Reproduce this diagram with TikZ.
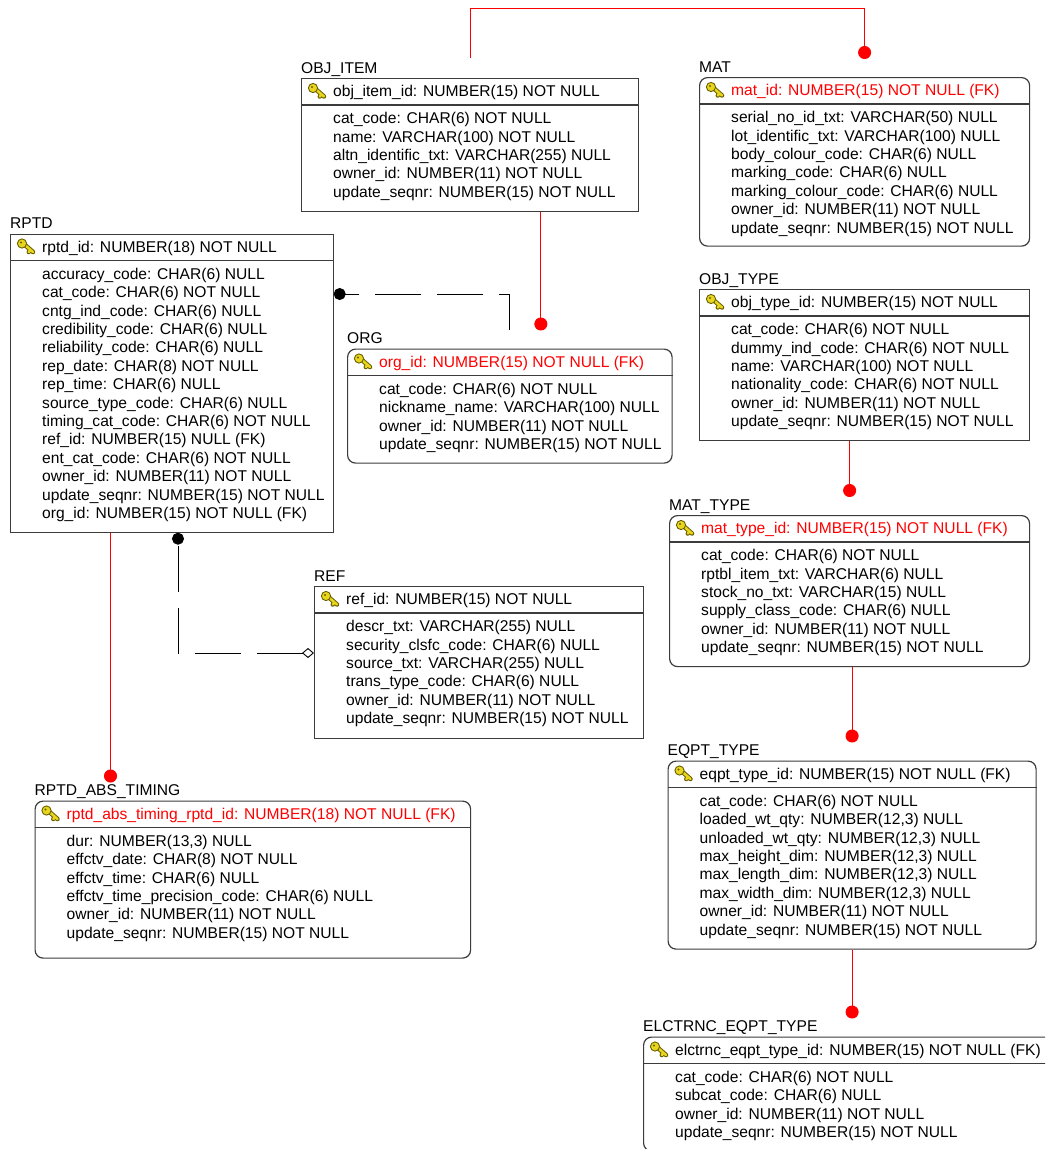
\documentclass[tikz,border=0pt]{standalone}
\usepackage{fontspec}
\setmainfont{Liberation Sans}
\usetikzlibrary{arrows.meta}
\definecolor{fkred}{RGB}{255,0,0}
\definecolor{boxline}{RGB}{60,60,60}
\definecolor{keyfill}{RGB}{232,214,30}
\definecolor{keyline}{RGB}{105,95,0}
\begin{document}
\begin{tikzpicture}[x=1pt,y=-1pt,font=\fontsize{15.6}{18.4}\selectfont,
	ent/.style={draw=boxline,line width=1.2pt,fill=white,anchor=north west,inner sep=0pt},
	dep/.style={ent,rounded corners=8pt},
	sep/.style={draw=boxline,line width=1.2pt},
	txt/.style={anchor=base west,inner sep=0pt},
	fk/.style={draw=fkred,line width=1pt,-{Circle[length=13pt]}},
	nonid/.style={draw=black,line width=0.9pt,dash pattern=on 46pt off 16pt},
	pkey/.pic={
		\draw[keyline,line width=4.5pt,line cap=round] (-1,-1) -- (7,6) (4.5,4) -- (2.8,6);
		\draw[keyfill,line width=2.5pt,line cap=round] (-1,-1) -- (7,6) (4.5,4) -- (2.8,6);
		\draw[keyline,fill=keyfill,line width=0.9pt] (-4,-2.5) circle (4.6pt);
		\fill[keyline] (-5,-3.5) circle (1.1pt);
	}]
	\useasboundingbox (0,0) rectangle (1045,1149);
	\clip (0,0) rectangle (1045,1149);
	% #1 name, #2 box style, #3 corner, #4 width, #5 height, #6 title, #7 key, #8 columns
	\def\entity#1#2#3#4#5#6#7#8{
		\node[#2,minimum width=#4pt,minimum height=#5pt] (#1) at #3 {};
		\node[txt] (#1-title) at ([yshift=5pt]#1.north west) {#6};
		\draw[sep] ([yshift=-27pt]#1.north west) -- ([yshift=-27pt]#1.north east);
		\pic at ([xshift=16pt,yshift=-12.5pt]#1.north west) {pkey};
		\node[txt] (#1-pk) at ([xshift=32pt,yshift=-18.7pt]#1.north west) {#7};
		\foreach \col [count=\i] in {#8}
			\node[txt] (#1-\i) at ([xshift=32pt,yshift=-45.7pt-(\i-1)*18.4pt]#1.north west) {\col};
	}
	\entity{objitem}{ent}{(301,78)}{337}{132.5}{OBJ\_ITEM}{obj\_item\_id: NUMBER(15) NOT NULL}
		{cat\_code: CHAR(6) NOT NULL, name: VARCHAR(100) NOT NULL, altn\_identific\_txt: VARCHAR(255) NULL,
		owner\_id: NUMBER(11) NOT NULL, update\_seqnr: NUMBER(15) NOT NULL}
	\entity{mat}{dep}{(699,77)}{330}{168.5}{MAT}{\textcolor{fkred}{mat\_id: NUMBER(15) NOT NULL (FK)}}
		{serial\_no\_id\_txt: VARCHAR(50) NULL, lot\_identific\_txt: VARCHAR(100) NULL, body\_colour\_code: CHAR(6) NULL,
		marking\_code: CHAR(6) NULL, marking\_colour\_code: CHAR(6) NULL, owner\_id: NUMBER(11) NOT NULL,
		update\_seqnr: NUMBER(15) NOT NULL}
	\entity{rptd}{ent}{(10,233.5)}{322.5}{298}{RPTD}{rptd\_id: NUMBER(18) NOT NULL}
		{accuracy\_code: CHAR(6) NULL, cat\_code: CHAR(6) NOT NULL, cntg\_ind\_code: CHAR(6) NULL,
		credibility\_code: CHAR(6) NULL, reliability\_code: CHAR(6) NULL, rep\_date: CHAR(8) NOT NULL,
		rep\_time: CHAR(6) NULL, source\_type\_code: CHAR(6) NULL, timing\_cat\_code: CHAR(6) NOT NULL,
		ref\_id: NUMBER(15) NULL (FK), ent\_cat\_code: CHAR(6) NOT NULL, owner\_id: NUMBER(11) NOT NULL,
		update\_seqnr: NUMBER(15) NOT NULL, org\_id: NUMBER(15) NOT NULL (FK)}
	\entity{org}{dep}{(347,348.5)}{324.5}{114}{ORG}{\textcolor{fkred}{org\_id: NUMBER(15) NOT NULL (FK)}}
		{cat\_code: CHAR(6) NOT NULL, nickname\_name: VARCHAR(100) NULL, owner\_id: NUMBER(11) NOT NULL,
		update\_seqnr: NUMBER(15) NOT NULL}
	\entity{objtype}{ent}{(699,289)}{330}{151}{OBJ\_TYPE}{obj\_type\_id: NUMBER(15) NOT NULL}
		{cat\_code: CHAR(6) NOT NULL, dummy\_ind\_code: CHAR(6) NOT NULL, name: VARCHAR(100) NOT NULL,
		nationality\_code: CHAR(6) NOT NULL, owner\_id: NUMBER(11) NOT NULL, update\_seqnr: NUMBER(15) NOT NULL}
	\entity{mattype}{dep}{(669,515)}{360}{151}{MAT\_TYPE}{\textcolor{fkred}{mat\_type\_id: NUMBER(15) NOT NULL (FK)}}
		{cat\_code: CHAR(6) NOT NULL, rptbl\_item\_txt: VARCHAR(6) NULL, stock\_no\_txt: VARCHAR(15) NULL,
		supply\_class\_code: CHAR(6) NULL, owner\_id: NUMBER(11) NOT NULL, update\_seqnr: NUMBER(15) NOT NULL}
	\entity{ref}{ent}{(314,586)}{328.5}{152}{REF}{ref\_id: NUMBER(15) NOT NULL}
		{descr\_txt: VARCHAR(255) NULL, security\_clsfc\_code: CHAR(6) NULL, source\_txt: VARCHAR(255) NULL,
		trans\_type\_code: CHAR(6) NULL, owner\_id: NUMBER(11) NOT NULL, update\_seqnr: NUMBER(15) NOT NULL}
	\entity{timing}{dep}{(34.5,800.5)}{435.5}{157}{RPTD\_ABS\_TIMING}{\textcolor{fkred}{rptd\_abs\_timing\_rptd\_id: NUMBER(18) NOT NULL (FK)}}
		{{dur: NUMBER(13,3) NULL}, effctv\_date: CHAR(8) NOT NULL, effctv\_time: CHAR(6) NULL,
		effctv\_time\_precision\_code: CHAR(6) NULL, owner\_id: NUMBER(11) NOT NULL, update\_seqnr: NUMBER(15) NOT NULL}
	\entity{eqpt}{dep}{(667.5,760.5)}{368}{188}{EQPT\_TYPE}{eqpt\_type\_id: NUMBER(15) NOT NULL (FK)}
		{cat\_code: CHAR(6) NOT NULL, {loaded\_wt\_qty: NUMBER(12,3) NULL}, {unloaded\_wt\_qty: NUMBER(12,3) NULL},
		{max\_height\_dim: NUMBER(12,3) NULL}, {max\_length\_dim: NUMBER(12,3) NULL}, {max\_width\_dim: NUMBER(12,3) NULL},
		owner\_id: NUMBER(11) NOT NULL, update\_seqnr: NUMBER(15) NOT NULL}
	\entity{elctrnc}{dep}{(643,1036.5)}{417}{114}{ELCTRNC\_EQPT\_TYPE}{elctrnc\_eqpt\_type\_id: NUMBER(15) NOT NULL (FK)}
		{cat\_code: CHAR(6) NOT NULL, subcat\_code: CHAR(6) NULL, owner\_id: NUMBER(11) NOT NULL,
		update\_seqnr: NUMBER(15) NOT NULL}
	% identifying relationships
	\coordinate (orgfk) at ([xshift=31pt,yshift=18pt]org.north);
	\coordinate (timingfk) at ([xshift=76pt,yshift=18pt]timing.north west);
	\draw[fk] ([yshift=20pt]objitem.north) -- ++(0,-50) -| ([yshift=18pt]mat.north);
	\draw[fk] (objitem.south -| orgfk) -- (orgfk);
	\draw[fk] (rptd.south -| timingfk) -- (timingfk);
	\draw[fk] (objtype.south -| mattype.north) -- ([yshift=18pt]mattype.north);
	\draw[fk] (mattype.south -| eqpt.north) -- ([yshift=18pt]eqpt.north);
	\draw[fk] (eqpt.south -| elctrnc.north) -- ([yshift=18pt]elctrnc.north);
	% non-identifying relationships
	\draw[nonid,-{Circle[length=12pt]}] ([yshift=19pt]org.north) |- ([yshift=-60.5pt]rptd.north east);
	\draw[nonid,{Diamond[open,length=12pt,width=10pt]}-{Circle[length=12pt]}] ([yshift=-67pt]ref.north west) -| ([xshift=168pt]rptd.south west);
\end{tikzpicture}
\end{document}
